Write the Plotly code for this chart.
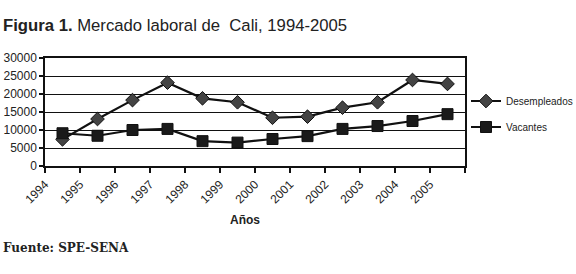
import plotly.graph_objects as go

years = ["1994", "1995", "1996", "1997", "1998", "1999", "2000", "2001", "2002", "2003", "2004", "2005"]
desempleados = [7400, 13050, 18300, 23150, 18800, 17700, 13400, 13700, 16200, 17700, 23900, 22800]
vacantes = [9100, 8400, 10000, 10300, 6900, 6500, 7500, 8300, 10300, 11100, 12500, 14400]
y_ticks = [0, 5000, 10000, 15000, 20000, 25000, 30000]

xpos = [i + 0.5 for i in range(len(years))]

W, H = 576, 274
L, R, T, B = 45, 111, 58, 108
pw, ph = W - L - R, H - T - B

def px(xs):
    return (xs - L) / pw

def py(ys):
    return (H - B - ys) / ph

fig = go.Figure()
fig.add_trace(go.Scatter(
    x=xpos, y=desempleados, name="Desempleados", mode="lines+markers", legend="legend",
    line=dict(color="#111111", width=2.2),
    marker=dict(symbol="diamond", size=10.5, color="#444444", line=dict(color="#111111", width=1)),
))
fig.add_trace(go.Scatter(
    x=xpos, y=vacantes, name="Vacantes", mode="lines+markers", legend="legend2",
    line=dict(color="#111111", width=2.2),
    marker=dict(symbol="square", size=11, color="#1a1a1a", line=dict(color="#111111", width=1)),
))

leg_common = dict(xanchor="left", yanchor="middle", font=dict(size=10, color="#222222"),
                  bgcolor="rgba(0,0,0,0)", itemwidth=30)

fig.update_layout(
    width=W, height=H,
    margin=dict(l=L, r=R, t=T, b=B, autoexpand=False),
    paper_bgcolor="white", plot_bgcolor="white",
    font=dict(family="Liberation Sans, Arial", size=12, color="#222222"),
    showlegend=True,
    legend=dict(x=px(466), y=py(101), **leg_common),
    legend2=dict(x=px(466), y=py(127), **leg_common),
    xaxis=dict(
        range=[0, 12], tickmode="array", tickvals=list(range(13)),
        ticktext=years + [""], tickangle=-45, ticks="outside", ticklen=5,
        tickwidth=1.5, tickcolor="#111111", showgrid=False, zeroline=False,
        showline=True, linecolor="#111111", linewidth=1.5, mirror=True,
        tickfont=dict(size=12, color="#222222"), automargin=False,
    ),
    yaxis=dict(
        range=[0, 30000], tickmode="array", tickvals=y_ticks,
        ticktext=[str(v) for v in y_ticks],
        ticks="outside", ticklen=4, tickwidth=1.5, tickcolor="#111111",
        showgrid=True, gridcolor="#111111", gridwidth=1, zeroline=False,
        showline=True, linecolor="#111111", linewidth=1.5, mirror=True,
        tickfont=dict(size=12, color="#222222"), automargin=False,
    ),
    annotations=[
        dict(text="<b>Figura 1.</b> Mercado laboral de  Cali, 1994-2005",
             xref="paper", yref="paper", x=px(1), y=py(25), xanchor="left", yanchor="middle",
             showarrow=False, font=dict(size=16.7, color="#222222", family="Liberation Sans, Arial")),
        dict(text="<b>Años</b>", xref="paper", yref="paper", x=px(245), y=py(220),
             xanchor="center", yanchor="middle", showarrow=False,
             font=dict(size=12, color="#222222")),
        dict(text="<b>Fuente: SPE-SENA</b>", xref="paper", yref="paper", x=px(1), y=py(248),
             xanchor="left", yanchor="middle", showarrow=False,
             font=dict(size=12, color="#222222", family="DejaVu Serif, Liberation Serif")),
    ],
)

fig.write_html("out.html", config={"displayModeBar": False},
               post_script="document.body.style.margin='0';")
